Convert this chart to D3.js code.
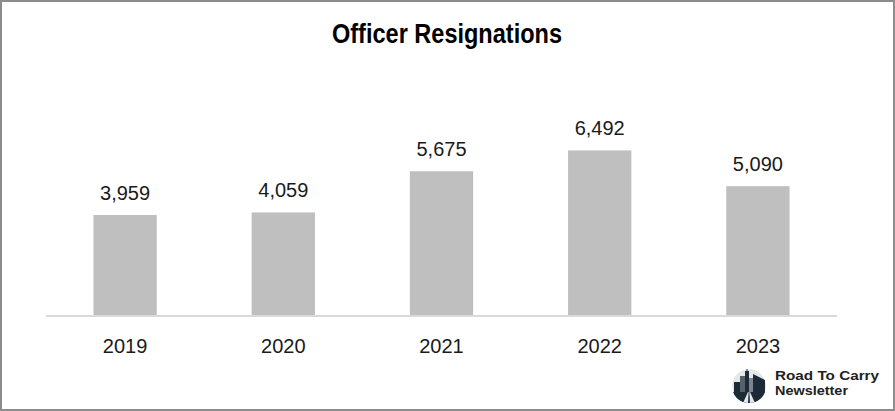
<!DOCTYPE html>
<html>
<head>
<meta charset="utf-8">
<script src="https://cdn.jsdelivr.net/npm/d3@7"></script>
<style>
  html, body { margin: 0; padding: 0; background: #fff; }
  svg { display: block; }
</style>
</head>
<body>
<svg id="chart" width="895" height="411"></svg>
<script>
const years = ["2019", "2020", "2021", "2022", "2023"];
const resignations = [3959, 4059, 5675, 6492, 5090];
const chartTitle = "Officer Resignations";
const brandLines = ["Road To Carry", "Newsletter"];

const W = 895, H = 411;
const svg = d3.select("#chart");

// frame
svg.append("rect")
  .attr("x", 1).attr("y", 1).attr("width", W - 2).attr("height", H - 2)
  .attr("fill", "#fff").attr("stroke", "#8c8c8c").attr("stroke-width", 2);

const margin = { left: 46, right: 58, baseline: 316 };
const x = d3.scaleBand().domain(years).range([margin.left, W - margin.right]).paddingInner(0.6).paddingOuter(0.3);
const y = d3.scaleLinear().domain([0, 6492]).range([margin.baseline, 150.4]);

// title
svg.append("text")
  .attr("x", 447).attr("y", 43)
  .attr("text-anchor", "middle")
  .attr("font-family", "'Liberation Sans Narrow', 'Liberation Sans', Arial, sans-serif")
  .attr("font-weight", "bold")
  .attr("font-size", 27)
  .attr("textLength", 230)
  .attr("lengthAdjust", "spacingAndGlyphs")
  .attr("fill", "#000")
  .text(chartTitle);

const data = years.map((yr, i) => ({ yr, v: resignations[i] }));

// bars
svg.append("g").selectAll("rect").data(data).join("rect")
  .attr("x", d => x(d.yr))
  .attr("width", x.bandwidth())
  .attr("y", d => y(d.v))
  .attr("height", d => y(0) - y(d.v))
  .attr("fill", "#bfbfbf");

// value labels
const fmt = d3.format(",");
svg.append("g").selectAll("text").data(data).join("text")
  .attr("x", d => x(d.yr) + x.bandwidth() / 2)
  .attr("y", d => y(d.v) - 15)
  .attr("text-anchor", "middle")
  .attr("font-family", "'Liberation Sans', Arial, sans-serif")
  .attr("font-size", 20)
  .attr("fill", "#1a1a1a")
  .text(d => fmt(d.v));

// axis
const axis = d3.axisBottom(x).tickSize(0).tickPadding(22);
const gAxis = svg.append("g").attr("transform", `translate(0,${margin.baseline})`).call(axis);
gAxis.select(".domain").attr("stroke", "#d9d9d9").attr("stroke-width", 2)
  .attr("d", `M${margin.left},0H${W - margin.right}`);
gAxis.selectAll(".tick text")
  .attr("font-family", "'Liberation Sans', Arial, sans-serif")
  .attr("font-size", 20)
  .attr("fill", "#1a1a1a")
  .attr("dy", 0)
  .attr("y", 37);

// brand logo
const logo = svg.append("g").attr("transform", "translate(749,386)");
const clip = svg.append("defs").append("clipPath").attr("id", "logoClip");
clip.append("circle").attr("cx", 0).attr("cy", 0).attr("r", 17);
const lg = logo.append("g").attr("clip-path", "url(#logoClip)");
lg.append("circle").attr("r", 17).attr("fill", "#e4e8eb");
const navy = "#1d2a38";
lg.append("rect").attr("x", -15).attr("y", -4).attr("width", 6).attr("height", 20).attr("fill", navy);
lg.append("rect").attr("x", -9).attr("y", -10).attr("width", 5).attr("height", 26).attr("fill", "#56616d");
lg.append("rect").attr("x", -4).attr("y", -15).attr("width", 4).attr("height", 31).attr("fill", navy);
lg.append("rect").attr("x", -2.5).attr("y", -19).attr("width", 1).attr("height", 5).attr("fill", navy);
lg.append("rect").attr("x", 0).attr("y", -8).attr("width", 4).attr("height", 24).attr("fill", "#7b8590");
lg.append("path").attr("d", "M4,-12 L16,-6 L16,16 L4,16 Z").attr("fill", navy);
lg.append("path").attr("d", "M-17,6 L17,6 L17,17 L-17,17 Z").attr("fill", navy);
lg.append("path").attr("d", "M-1,6 L1,6 L6,17 L-6,17 Z").attr("fill", "#e4e8eb");
lg.append("path").attr("d", "M-0.4,6 L0.4,6 L1,17 L-1,17 Z").attr("fill", navy);

const brandWidths = [104, 73];
svg.append("g").selectAll("text").data(brandLines).join("text")
  .attr("x", 775)
  .attr("y", (d, i) => 380 + i * 15)
  .attr("font-family", "'Liberation Sans', Arial, sans-serif")
  .attr("font-weight", "bold")
  .attr("font-size", 13.5)
  .attr("textLength", (d, i) => brandWidths[i])
  .attr("lengthAdjust", "spacingAndGlyphs")
  .attr("fill", "#222")
  .text(d => d);
</script>
</body>
</html>
